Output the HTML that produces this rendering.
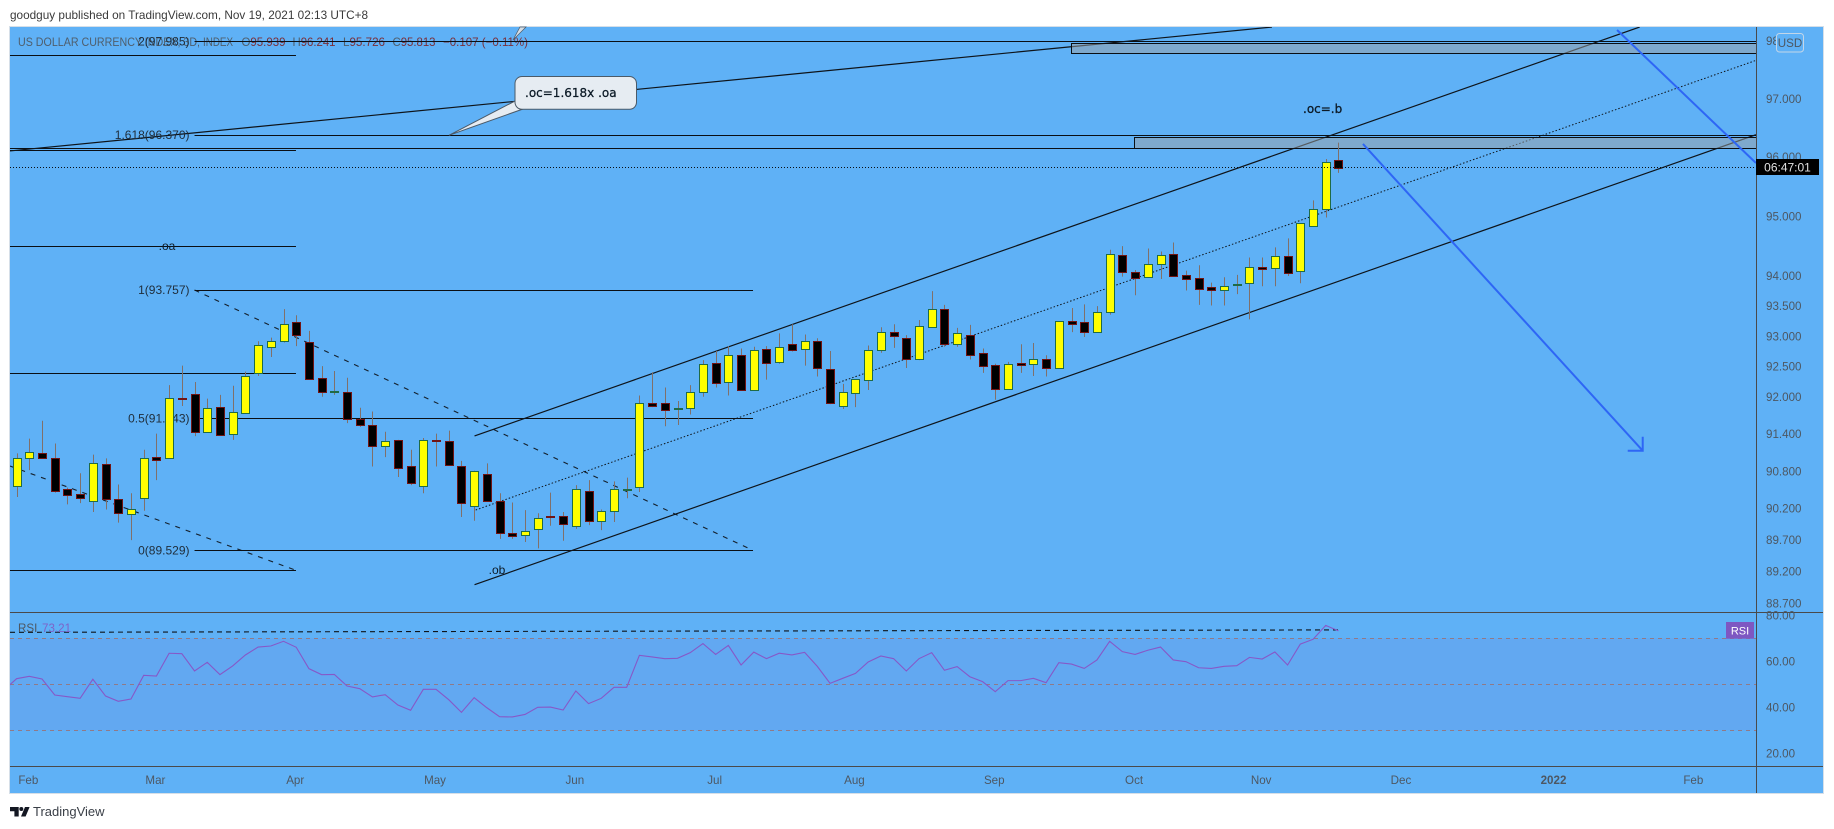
<!DOCTYPE html>
<html lang="en">
<head>
<meta charset="utf-8">
<title>US Dollar Currency Index chart</title>
<style>
html,body{margin:0;padding:0;background:#fff;width:1834px;height:829px;overflow:hidden}
svg{display:block;font-family:"Liberation Sans",sans-serif}
</style>
</head>
<body>
<svg id="root" width="1834" height="829" viewBox="0 0 1834 829" xmlns="http://www.w3.org/2000/svg">
  <defs>
    <clipPath id="mainClip"><rect x="10" y="27" width="1746" height="585"/></clipPath>
    <clipPath id="rsiClip"><rect x="10" y="613" width="1746" height="153"/></clipPath>
  </defs>
  <text x="10" y="19" font-size="12" fill="#3a3a3a" textLength="358" lengthAdjust="spacingAndGlyphs">goodguy published on TradingView.com, Nov 19, 2021 02:13 UTC+8</text>
  <rect x="9.5" y="26.5" width="1814" height="767" fill="#5fb1f6" stroke="#d6dfe8"/>

  <g font-size="12" fill="#4f5e6c">
    <text x="18" y="46" textLength="182" lengthAdjust="spacingAndGlyphs">US DOLLAR CURRENCY INDEX, 3D,</text>
    <text x="203" y="46" textLength="30" lengthAdjust="spacingAndGlyphs">INDEX</text>
    <text x="241.5" y="46" textLength="44" lengthAdjust="spacingAndGlyphs">O<tspan fill="#7a2f3a">95.939</tspan></text>
    <text x="292.5" y="46" textLength="43" lengthAdjust="spacingAndGlyphs">H<tspan fill="#7a2f3a">96.241</tspan></text>
    <text x="343" y="46" textLength="42" lengthAdjust="spacingAndGlyphs">L<tspan fill="#7a2f3a">95.726</tspan></text>
    <text x="392.5" y="46" textLength="43" lengthAdjust="spacingAndGlyphs">C<tspan fill="#7a2f3a">95.813</tspan></text>
    <text x="443" y="46" textLength="85" lengthAdjust="spacingAndGlyphs" fill="#7a2f3a">−0.107 (−0.11%)</text>
  </g>

  <g id="mainDrawings" clip-path="url(#mainClip)"></g>

  <g id="fibLabels" font-size="12" fill="#1f2d3a" text-anchor="end"></g>
  <g id="candles" clip-path="url(#mainClip)"></g>
  <g id="mainOverlay" clip-path="url(#mainClip)"></g>

  <g font-family="'DejaVu Sans',sans-serif" font-size="12" fill="#0c1a26">
    <polygon points="449,135.3 515,101 523,109" fill="#e6ecf2" stroke="#4b5a68" stroke-width="1"/>
    <rect x="515" y="76.5" width="121.5" height="32.8" rx="7" fill="#e6ecf2" stroke="#4b5a68"/>
    <polygon points="513,40 526,27 520,27" fill="#d5dde5" stroke="#4b5a68" stroke-width=".7"/>
    <text x="525" y="97" stroke="#0c1a26" stroke-width=".25">.oc=1.618x .oa</text>
    <text x="1303" y="113" stroke="#0c1a26" stroke-width=".3">.oc=.b</text>
    <text x="167" y="250" text-anchor="middle" font-family="'Liberation Sans',sans-serif">.oa</text>
    <text x="497" y="574" text-anchor="middle" font-family="'Liberation Sans',sans-serif">.ob</text>
  </g>

  <g id="rsiPane"></g>

  <g stroke="#4a4a4a" stroke-width="1">
    <line x1="10" y1="612.5" x2="1823" y2="612.5"/>
    <line x1="10" y1="766.5" x2="1823" y2="766.5"/>
    <line x1="1756.5" y1="27" x2="1756.5" y2="793"/>
  </g>

  <g id="priceAxis" font-size="11.6" fill="#4d5762"></g>
  <g id="rsiAxis" font-size="11.6" fill="#4d5762"></g>
  <g id="timeAxis" font-size="11.6" fill="#4d5762" text-anchor="middle"></g>

  <g>
    <rect x="1776.5" y="33.5" width="27" height="18.5" rx="3" fill="#5fb1f6" stroke="#c3d6e8"/>
    <text x="1790" y="47" font-size="11.6" fill="#4d5762" text-anchor="middle">USD</text>
  </g>
  <g>
    <rect x="1756" y="159" width="63" height="16" fill="#000"/>
    <text x="1787.5" y="171.5" font-size="12" fill="#e0e0e0" text-anchor="middle">06:47:01</text>
  </g>
  <g font-size="11.6">
    <text x="18" y="632" fill="#4d5762">RSI</text>
    <text x="42" y="632" fill="#7e62c8">73.21</text>
  </g>
  <g>
    <rect x="1726" y="622" width="28" height="16.7" fill="#7e57c2"/>
    <text x="1740" y="634.5" font-size="11" fill="#fff" text-anchor="middle">RSI</text>
  </g>

  <g>
    <path d="M10 807h8.7v9.5h-4.3v-5.2H10z" fill="#131722"/>
    <circle cx="21.3" cy="809" r="2" fill="#131722"/>
    <path d="M25 807h4.6l-4 9.5H21z" fill="#131722"/>
    <text x="33" y="816" font-size="13" fill="#3a3f47">TradingView</text>
  </g>
</svg>

<script>
const opens = [90.56,91.01,91.09,91.01,90.50,90.42,90.31,90.91,90.35,90.11,
90.37,91.02,91.00,91.98,92.04,91.42,91.83,91.40,91.74,92.38,
92.81,92.91,93.22,92.89,92.31,92.08,92.08,91.63,91.54,91.20,
91.30,90.88,90.56,91.29,91.28,90.88,90.24,90.75,90.31,89.80,
89.78,89.86,90.08,90.07,89.92,90.48,89.99,90.15,90.50,90.54,
91.89,91.89,91.80,91.82,92.08,92.56,92.24,92.69,92.11,92.79,
92.57,92.87,92.79,92.91,92.45,91.85,92.06,92.27,92.77,93.06,
92.96,92.61,93.14,93.45,92.87,93.02,92.71,92.52,92.12,92.55,
92.53,92.61,92.47,93.24,93.22,93.07,93.40,94.34,94.06,93.98,
94.19,94.36,94.01,93.95,93.80,93.75,93.84,93.88,94.14,94.12,
94.33,94.07,94.83,95.12,95.939];
const highs = [91.08,91.32,91.61,91.24,90.53,90.76,91.06,91.00,90.58,90.44,
91.14,91.40,92.19,92.51,92.24,91.97,92.03,92.18,92.41,92.91,
92.97,93.44,93.34,93.08,92.50,92.42,92.31,91.82,91.76,91.43,
91.30,91.14,91.33,91.40,91.45,90.96,90.80,90.92,90.44,90.29,
90.17,90.12,90.45,90.14,90.57,90.65,90.18,90.63,90.69,92.02,
92.40,92.15,91.93,92.19,92.60,92.75,92.83,92.79,92.82,92.83,
93.04,93.19,93.02,92.96,92.75,92.21,92.29,92.84,93.14,93.19,
93.01,93.26,93.74,93.51,93.13,93.18,92.79,92.54,92.57,92.86,
92.88,92.68,93.24,93.46,93.52,93.49,94.43,94.49,94.09,94.45,
94.40,94.55,94.08,94.17,93.88,93.97,94.01,94.30,94.30,94.47,
94.62,94.87,95.26,95.96,96.241];
const lows = [90.38,90.81,91.00,90.45,90.26,90.28,90.14,90.18,89.97,89.69,
90.16,90.65,90.99,91.85,91.36,91.41,91.38,91.30,91.73,92.34,
92.65,92.89,92.83,92.28,92.00,92.03,91.57,91.51,90.87,91.02,
90.70,90.57,90.44,90.87,90.90,90.06,90.00,90.30,89.71,89.71,
89.66,89.56,89.92,89.68,89.87,89.93,89.85,89.98,90.36,90.46,
91.83,91.52,91.54,91.71,92.00,92.15,92.02,92.11,92.11,92.28,
92.54,92.74,92.51,92.33,91.88,91.80,91.83,92.11,92.72,92.80,
92.47,92.60,93.14,92.82,92.82,92.61,92.39,91.95,92.11,92.39,
92.34,92.33,92.46,93.06,92.98,93.06,93.35,93.98,93.67,93.97,
93.94,93.99,93.75,93.51,93.50,93.50,93.69,93.27,93.82,93.82,
93.99,93.87,94.83,94.97,95.726];
const closes = [91.01,91.10,91.00,90.47,90.41,90.36,90.93,90.35,90.13,90.19,
91.01,90.98,91.98,91.97,91.42,91.82,91.38,91.75,92.34,92.84,
92.91,93.20,93.01,92.29,92.07,92.09,91.64,91.54,91.20,91.28,
90.85,90.61,91.30,91.28,90.90,90.29,90.79,90.31,89.80,89.76,
89.84,90.05,90.07,89.94,90.50,89.99,90.15,90.51,90.51,91.90,
91.85,91.79,91.82,92.08,92.53,92.23,92.69,92.11,92.77,92.56,
92.82,92.77,92.91,92.47,91.89,92.08,92.29,92.77,93.07,92.99,
92.61,93.16,93.45,92.87,93.04,92.69,92.50,92.12,92.53,92.52,
92.61,92.47,93.24,93.20,93.07,93.40,94.36,94.05,93.96,94.19,
94.34,93.99,93.94,93.78,93.75,93.82,93.85,94.14,94.10,94.33,
94.04,94.87,95.12,95.91,95.813];
const rsiValues = [52.45,53.46,52.3,45.35,44.6,43.9,52.2,44.9,42.6,43.6,
53.9,53.6,63.5,63.3,55.8,59.55,54.2,58.0,62.75,66.2,
66.65,68.7,66.1,56.8,54.2,54.3,49.25,48.1,44.5,45.5,
41.0,38.7,47.8,47.8,43.3,37.8,44.2,39.8,35.9,35.8,
36.9,40.0,40.1,38.8,47.1,41.6,43.9,48.7,48.7,62.6,
61.9,61.15,61.3,63.75,67.7,63.0,66.9,58.4,64.0,61.15,
63.5,62.75,63.9,57.8,50.4,52.6,54.75,59.7,62.3,61.15,
55.8,61.15,63.75,56.1,57.7,53.3,51.15,46.8,51.6,51.6,
52.6,50.7,59.4,58.8,56.9,60.6,68.7,64.2,63.0,64.8,
66.2,60.6,59.85,57.2,56.9,57.8,58.1,61.7,61.0,64.05,
58.4,67.5,69.55,75.6,73.21];
const rsiLeadIn = 47.5;
const priceTicks = [98,97,96,95,94,93.5,93,92.5,92,91.4,90.8,90.2,89.7,89.2,88.7];
const rsiTicks = [80,60,40,20];
const rsiLevels = [70,50,30];
const timeLabels = ["Feb","Mar","Apr","May","Jun","Jul","Aug","Sep","Oct","Nov","Dec","2022","Feb"];
const timeBars = [1,11,22,33,44,55,66,77,88,98,109,121,132];
const fibText = ["2(97.985)","1.618(96.370)","1(93.757)","0.5(91.643)","0(89.529)"];
const fibPrices = [97.985,96.37,93.757,91.643,89.529];
const fibStartBar = 14;
const fibLevelEnd = [136.9,136.9,57.94,57.94,57.94];
const leftLevels = [97.742,96.109,94.487,92.383,89.212];
const leftLevelStart = -0.55;
const leftLevelEnd = 21.98;
const fullLevel = 96.144;
const zoneStarts = [82.98,87.93];
const zoneTops = [97.955,96.335];
const zoneBottoms = [97.777,96.144];
const solidTrendBars = [[36.03,127.7],[36.03,136.85],[-0.52,98.77]];
const solidTrendPrices = [[91.362,98.233],[88.985,96.375],[96.098,98.233]];
const dottedTrendBars = [36.12,136.78];
const dottedTrendPrices = [90.171,97.648];
const dashedTrendBars = [[14,57.54],[-0.52,21.98]];
const dashedTrendPrices = [[93.757,89.566],[90.877,89.212]];
const arrowBars = [[105.93,127.94],[125.92,136.85]];
const arrowPrices = [[96.217,91.124],[98.181,95.893]];
const lastPrice = 95.813;
const rsiGuideStart = 72.6;
const rsiGuideEnd = 73.65;

const NS = "http://www.w3.org/2000/svg";
const xOf = (bar) => 16.6 + 12.71 * bar;
const yOf = (price) => 550.3 - 5640 * Math.log(price / 89.529);
const ySnap = (price) => Math.floor(yOf(price)) + .5;
const rsiY = (v) => 684.3 - (v - 50) * 2.3;

function make(tag, parent, attrs) {
  const el = document.createElementNS(NS, tag);
  for (const k in attrs) el.setAttribute(k, attrs[k]);
  parent.appendChild(el);
  return el;
}

const drawings = document.getElementById("mainDrawings");
const overlay = document.getElementById("mainOverlay");
const candleGroup = document.getElementById("candles");
const INK = "#0a0f14";

/* dashed trend lines */
dashedTrendBars.forEach((b, i) => {
  const p = dashedTrendPrices[i];
  const el = make("line", drawings, {x1:xOf(b[0]),y1:yOf(p[0]),x2:xOf(b[1]),y2:yOf(p[1]),stroke:"#14202c","stroke-width":1.1,"stroke-dasharray":"5 6"});
  
  
});

/* fibonacci levels and left-hand levels */
fibPrices.forEach((p, i) => {
  const el = make("line", drawings, {x1:xOf(fibStartBar),y1:ySnap(p),x2:xOf(fibLevelEnd[i]),y2:ySnap(p),stroke:INK,"stroke-width":1});
  
  
});
leftLevels.forEach((p) => {
  const el = make("line", drawings, {x1:xOf(leftLevelStart),y1:ySnap(p),x2:xOf(leftLevelEnd),y2:ySnap(p),stroke:INK,"stroke-width":1});
  
  
});
const fullLine = make("line", drawings, {x1:xOf(leftLevelStart),y1:ySnap(fullLevel),x2:xOf(136.9),y2:ySnap(fullLevel),stroke:INK,"stroke-width":1});



/* solid trend lines */
solidTrendBars.forEach((b, i) => {
  const p = solidTrendPrices[i];
  const el = make("line", drawings, {x1:xOf(b[0]),y1:yOf(p[0]),x2:xOf(b[1]),y2:yOf(p[1]),stroke:"#0e141a","stroke-width":1.2});
  
  
});
const mid = make("line", drawings, {x1:xOf(dottedTrendBars[0]),y1:yOf(dottedTrendPrices[0]),x2:xOf(dottedTrendBars[1]),y2:yOf(dottedTrendPrices[1]),stroke:"#0e141a","stroke-width":1,"stroke-dasharray":"1.5 2"});



/* supply zones */
zoneStarts.forEach((b, i) => {
  const x = Math.round(xOf(b)) + .5;
  const y = ySnap(zoneTops[i]);
  const el = make("rect", drawings, {x:x,y:y,width:1770-x,height:ySnap(zoneBottoms[i])-y,fill:"rgba(157,161,163,.5)",stroke:INK,"stroke-width":1});
  
  
});

/* fib labels */
const fibLabelGroup = document.getElementById("fibLabels");
fibText.forEach((t, i) => {
  const el = make("text", fibLabelGroup, {x:189.5,y:yOf(fibPrices[i])+4});
  el.textContent = t;
  
  
});

/* candles */
opens.forEach((o, i) => {
  const c = closes[i];
  const up = c >= o;
  const x = xOf(i);
  const g = make("g", candleGroup, {});
  
  
  const wick = make("line", g, {x1:Math.round(x)+.5,x2:Math.round(x)+.5,y1:yOf(highs[i]),y2:yOf(lows[i]),stroke:"#80706a","stroke-width":1});
  
  
  const top = Math.round(yOf(Math.max(o, c))) + .5;
  const bot = Math.max(top + 1, Math.round(yOf(Math.min(o, c))) + .5);
  const body = make("rect", g, {x:Math.round(x)-3.5,y:top,width:8,height:bot-top,fill:up?"#ffff00":"#000",stroke:up?"#1f6b47":"#701414","stroke-width":1});
  
  
});

/* last price line */
const last = make("line", overlay, {x1:10,x2:1756,y1:ySnap(lastPrice),y2:ySnap(lastPrice),stroke:"#0a0f14","stroke-width":1,"stroke-dasharray":"1 2"});



/* blue arrows */
arrowBars.forEach((b, i) => {
  const p = arrowPrices[i];
  const el = make("line", overlay, {x1:xOf(b[0]),y1:yOf(p[0]),x2:xOf(b[1]),y2:yOf(p[1]),stroke:"#2e66f5","stroke-width":2});
  
  
});
const tipX = xOf(arrowBars[0][1]);
const tipY = yOf(arrowPrices[0][1]);
const head = make("polyline", overlay, {points:(tipX-15)+","+tipY+" "+tipX+","+tipY+" "+tipX+","+(tipY-14),fill:"none",stroke:"#2e66f5","stroke-width":2});



/* RSI pane */
const rsiPane = document.getElementById("rsiPane");
const band = make("rect", rsiPane, {x:10,width:1746,y:rsiY(70),height:rsiY(30)-rsiY(70),fill:"rgba(126,87,194,.1)"});


rsiLevels.forEach((v) => {
  const el = make("line", rsiPane, {x1:10,x2:1756,y1:Math.floor(rsiY(v))+.5,y2:Math.floor(rsiY(v))+.5,stroke:"#8f7a88","stroke-width":1,"stroke-dasharray":"4 4"});
  
  
});
const clipG = make("g", rsiPane, {"clip-path":"url(#rsiClip)"});


const guide = make("line", clipG, {x1:10,x2:xOf(104),y1:rsiY(rsiGuideStart),y2:rsiY(rsiGuideEnd),stroke:"#0e141a","stroke-width":1.1,"stroke-dasharray":"5 4"});


const rsiPts = [xOf(-1)+","+rsiY(rsiLeadIn)].concat(rsiValues.map((v, i) => xOf(i)+","+rsiY(v))).join(" ");
const rsiLine = make("polyline", clipG, {points:rsiPts,fill:"none",stroke:"#8658c8","stroke-width":1.1});



/* axes */
const priceAxis = document.getElementById("priceAxis");
priceTicks.forEach((p) => {
  const el = make("text", priceAxis, {x:1766,y:yOf(p)+4.5});
  el.textContent = p.toFixed(3);
  
  
});
const rsiAxis = document.getElementById("rsiAxis");
rsiTicks.forEach((v) => {
  const el = make("text", rsiAxis, {x:1766,y:rsiY(v)+4});
  el.textContent = v.toFixed(2);
  
  
});
const timeAxis = document.getElementById("timeAxis");
timeLabels.forEach((t, i) => {
  const el = make("text", timeAxis, {x:xOf(timeBars[i])-1,y:784});
  el.textContent = t;
  if (t === "2022") el.setAttribute("font-weight", "bold");
  
  
});
</script>
</body>
</html>
